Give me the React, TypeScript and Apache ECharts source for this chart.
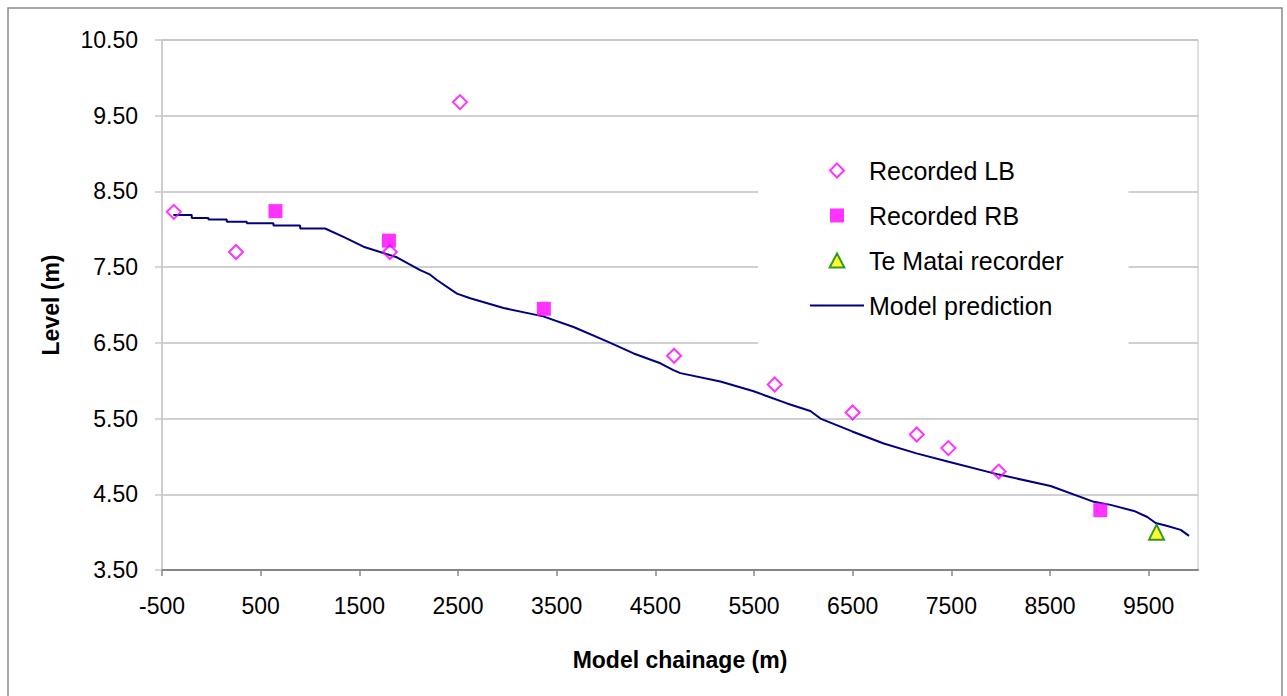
import React, { useEffect, useRef } from "react";
import * as echarts from "echarts";

const FONT = "'Liberation Sans', Arial, sans-serif";

// Recorded LB (diamonds)
const lbX = [-380, 250, 1810, 2520, 4690, 5710, 6500, 7150, 7470, 7980];
const lbY = [8.23, 7.7, 7.7, 9.68, 6.33, 5.95, 5.58, 5.29, 5.11, 4.8];

// Recorded RB (squares)
const rbX = [650, 1800, 3370, 9010];
const rbY = [8.24, 7.85, 6.95, 4.29];

// Te Matai recorder (triangle)
const tmX = [9580];
const tmY = [4.0];

// Model prediction line
const modelX = [
  -385, -199, -198, -30, -29, 156, 157, 359, 360, 629, 630, 900, 901, 1153,
  1339, 1542, 1880, 2117, 2218, 2286, 2489, 2624, 2962, 3364, 3671, 4010,
  4280, 4551, 4683, 4754, 5159, 5497, 5835, 6071, 6174, 6495, 6815, 7147,
  7472, 7982, 8506, 8945, 9114, 9351, 9486, 9571, 9690, 9825, 9909,
];
const modelY = [
  8.19, 8.19, 8.15, 8.15, 8.13, 8.13, 8.1, 8.1, 8.08, 8.08, 8.05, 8.05, 8.01,
  8.01, 7.9, 7.77, 7.63, 7.46, 7.4, 7.33, 7.15, 7.09, 6.96, 6.85, 6.71, 6.52,
  6.36, 6.23, 6.14, 6.1, 5.99, 5.86, 5.7, 5.6, 5.5, 5.33, 5.17, 5.04, 4.93,
  4.76, 4.61, 4.4, 4.36, 4.28, 4.2, 4.12, 4.08, 4.03, 3.95,
];

// Tick labels
const xTicks = [-500, 500, 1500, 2500, 3500, 4500, 5500, 6500, 7500, 8500, 9500];
const yTicks = [3.5, 4.5, 5.5, 6.5, 7.5, 8.5, 9.5, 10.5];

const seriesNames = ["Recorded LB", "Recorded RB", "Te Matai recorder", "Model prediction"];

const zip = (xs: number[], ys: number[]) => xs.map((x, i) => [x, ys[i]]);

export default function App() {
  const ref = useRef<HTMLDivElement>(null);

  useEffect(() => {
    if (!ref.current) return;
    const chart = echarts.init(ref.current, null, { renderer: "svg" });
    chart.setOption({
      animation: false,
      backgroundColor: "#ffffff",
      graphic: [
        {
          type: "rect",
          shape: { x: 8, y: 8, width: 1274, height: 720 },
          style: { fill: "none", stroke: "#8a8a8a", lineWidth: 1.5 },
          silent: true,
        },
      ],
      grid: {
        left: 162,
        right: 89,
        top: 40,
        bottom: 126,
        show: true,
        borderColor: "#c0c0c0",
        borderWidth: 1,
        backgroundColor: "transparent",
      },
      legend: {
        orient: "vertical",
        left: 758,
        top: 130,
        itemWidth: 54,
        itemHeight: 14,
        itemGap: 20,
        symbolKeepAspect: true,
        padding: [28, 65, 28, 51],
        backgroundColor: "#ffffff",
        textStyle: { fontSize: 25, fontFamily: FONT, color: "#000", lineHeight: 24 },
        data: [
          { name: seriesNames[0], icon: "path://M0,-1L1,0L0,1L-1,0Z" },
          { name: seriesNames[1], icon: "path://M0,0L1,0L1,1L0,1Z" },
          { name: seriesNames[2], icon: "path://M0,-1L1,0.9L-1,0.9Z" },
          { name: seriesNames[3], itemStyle: { opacity: 0 } },
        ],
        selectedMode: false,
      },
      xAxis: {
        type: "value",
        min: -500,
        max: 10000,
        name: "Model chainage (m)",
        nameLocation: "middle",
        nameGap: 78,
        nameTextStyle: { fontSize: 23, fontWeight: "bold", fontFamily: FONT, color: "#000" },
        axisLine: { show: true, onZero: false, lineStyle: { color: "#868686", width: 2 } },
        axisTick: { show: true, length: 6, customValues: xTicks, lineStyle: { color: "#868686", width: 1.5 } },
        axisLabel: {
          customValues: xTicks,
          fontSize: 23,
          fontFamily: FONT,
          color: "#000",
          margin: 24,
          formatter: (v: number) => String(v),
        },
        splitLine: { show: false },
      },
      yAxis: {
        type: "value",
        min: 3.5,
        max: 10.5,
        name: "Level (m)",
        nameLocation: "middle",
        nameGap: 100,
        nameRotate: 90,
        nameTextStyle: { fontSize: 23, fontWeight: "bold", fontFamily: FONT, color: "#000" },
        axisLine: { show: true, onZero: false, lineStyle: { color: "#c8c8c8", width: 1.5 } },
        axisTick: { show: true, length: 7, customValues: yTicks, lineStyle: { color: "#c8c8c8", width: 1.5 } },
        axisLabel: {
          customValues: yTicks,
          fontSize: 23,
          fontFamily: FONT,
          color: "#000",
          margin: 24,
          formatter: (v: number) => v.toFixed(2),
        },
        splitLine: { show: true, lineStyle: { color: "#c0c0c0", width: 1.5 } },
      },
      series: [
        {
          name: "Recorded LB",
          type: "scatter",
          symbol: "diamond",
          symbolSize: 14,
          itemStyle: { color: "rgba(255,255,255,0)", borderColor: "#ff00ff", borderWidth: 2 },
          data: zip(lbX, lbY),
          z: 3,
        },
        {
          name: "Recorded RB",
          type: "scatter",
          symbol: "rect",
          symbolSize: 14,
          itemStyle: { color: "#ff00ff" },
          data: zip(rbX, rbY),
          z: 3,
        },
        {
          name: "Te Matai recorder",
          type: "scatter",
          symbol: "triangle",
          symbolSize: 15,
          itemStyle: { color: "#ffff00", borderColor: "#008000", borderWidth: 2 },
          data: zip(tmX, tmY),
          z: 4,
        },
        {
          name: "Model prediction",
          type: "line",
          symbol: "none",
          showSymbol: false,
          lineStyle: { color: "#000080", width: 2 },
          itemStyle: { color: "#000080" },
          data: zip(modelX, modelY),
          z: 2,
        },
      ],
    });
    return () => chart.dispose();
  }, []);

  return (
    <div
      ref={ref}
      style={{ position: "absolute", left: 0, top: 0, width: 1287, height: 696 }}
    />
  );
}
